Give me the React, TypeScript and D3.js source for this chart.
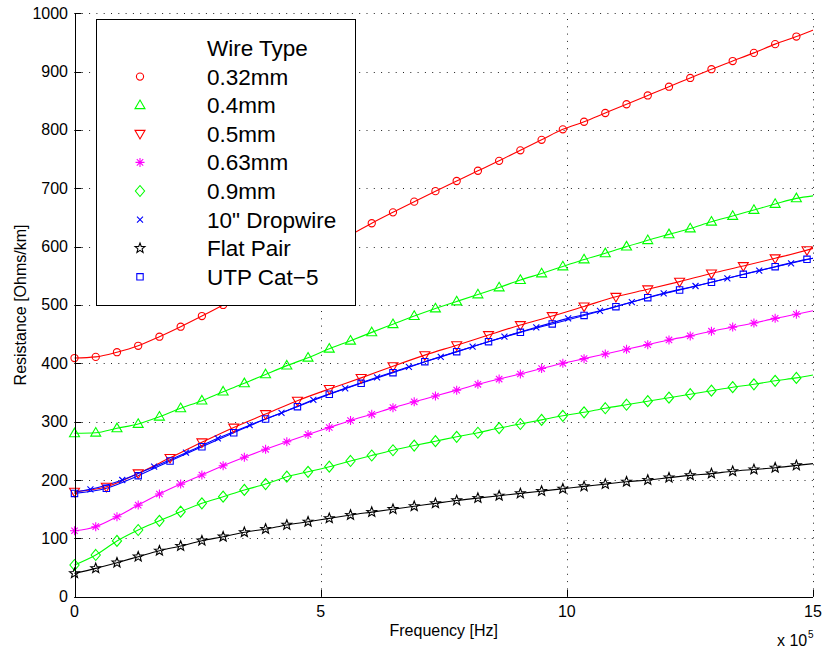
import React from "react";
import * as d3 from "d3";

// ---- data (frequency in Hz, resistance in Ohms/km) ----
const freqA = [0, 43125, 86250, 129375, 172500, 215625, 258750, 301875, 345000, 388125, 431250, 474375, 517500, 560625, 603750, 646875, 690000, 733125, 776250, 819375, 862500, 905625, 948750, 991875, 1035000, 1078125, 1121250, 1164375, 1207500, 1250625, 1293750, 1336875, 1380000, 1423125, 1466250];
const freqB = [0, 64687.5, 129375, 194062.5, 258750, 323437.5, 388125, 452812.5, 517500, 582187.5, 646875, 711562.5, 776250, 840937.5, 905625, 970312.5, 1035000, 1099687.5, 1164375, 1229062.5, 1293750, 1358437.5, 1423125, 1487812.5];
const freqC = [32343.75, 97031.25, 161718.75, 226406.25, 291093.75, 355781.25, 420468.75, 485156.25, 549843.75, 614531.25, 679218.75, 743906.25, 808593.75, 873281.25, 937968.75, 1002656.25, 1067343.75, 1132031.25, 1196718.75, 1261406.25, 1326093.75, 1390781.25, 1455468.75];
const edgeFreq = [0, 1500000];

const r032 = [409, 411, 419, 430, 445.6, 462.7, 481, 500, 520, 540, 560, 580, 600, 620, 640, 658.7, 677, 695, 712.4, 730, 747, 765, 783, 801, 814, 829, 844, 859, 874, 889, 904, 918, 932, 947, 960];
const r04 = [280, 281, 288.6, 296, 308.5, 322.9, 336, 351.4, 365.7, 381, 396, 409.5, 425, 438.7, 453, 467, 481, 494, 506, 518, 530, 542.7, 554, 566, 578, 588.5, 600, 611, 621, 631, 642.6, 652.4, 662.7, 673, 682.7];
const r05 = [180, 188.5, 211.5, 238, 264.6, 290, 313, 336, 356, 375, 395, 414, 431, 448.5, 465.6, 481, 497.5, 514, 526.8, 540, 554, 566.7, 580, 594];
const r063 = [113, 120, 137, 157, 176, 193, 208.6, 224.5, 239, 252.6, 265.6, 278, 290, 302, 312.6, 324, 334, 344, 354, 364, 373, 381.7, 391, 400, 408, 416, 424, 432, 440, 447, 455, 462, 469, 477, 484];
const r09 = [54.3, 71.5, 95.5, 114.3, 130, 145.7, 160, 171.4, 182.9, 193, 205.7, 214, 222.8, 232.6, 242, 251, 259, 266.5, 274, 281, 289, 296, 303, 310, 316, 323, 329, 335, 341, 347, 353, 359, 364, 370, 375];
const rDrop = [184, 200, 222.8, 246.8, 271.5, 294, 315, 337.5, 357, 376, 394, 411, 428.5, 445.6, 461.7, 477, 490, 505, 520, 532.5, 545.7, 558.7, 571.4];
const rFlat = [40, 48.6, 58.3, 68.6, 78.8, 86.9, 96, 102.8, 110.4, 116, 123, 128.5, 134.3, 140, 145, 150, 155, 160, 165, 169, 173, 177, 181, 185, 189, 193, 197, 200, 204, 208, 211, 215, 218, 221, 225];
const rUtp = [177, 185.8, 207.4, 232.6, 257, 281, 304.5, 325.6, 347, 365.7, 384, 402.7, 420, 437, 453, 467.4, 482, 497, 512.4, 525.6, 538.8, 552.5, 565.6, 578.2];

// line values at the axis edges (start at 0 Hz, end at 1.5 MHz); null = none
const edgeStart = [null, null, null, null, null, 179, null, null];
const edgeEnd = [971, 687, 597, 490, 380, 580, 228, 580];

const seriesNames = ["0.32mm", "0.4mm", "0.5mm", "0.63mm", "0.9mm", "10\" Dropwire", "Flat Pair", "UTP Cat\u22125"];
const seriesFreqs = [freqA, freqA, freqB, freqA, freqA, freqC, freqA, freqB];
const seriesValues = [r032, r04, r05, r063, r09, rDrop, rFlat, rUtp];
const seriesColors = ["#ff0000", "#00ff00", "#ff0000", "#ff00ff", "#00ff00", "#0000ff", "#000000", "#0000ff"];
const seriesShapes = ["circle", "triUp", "triDown", "asterisk", "diamond", "cross", "star", "square"];

const xTicks = [0, 500000, 1000000, 1500000];
const xTickLabels = ["0", "5", "10", "15"];
const yTicks = [0, 100, 200, 300, 400, 500, 600, 700, 800, 900, 1000];

const FONT = "'Liberation Sans', Arial, Helvetica, sans-serif";

function markerPath(shape: string): string {
  switch (shape) {
    case "circle": {
      const r = 3.6;
      return `M${r},0A${r},${r} 0 1,1 ${-r},0A${r},${r} 0 1,1 ${r},0Z`;
    }
    case "triUp":
      return "M0,-5.2L5,3.4L-5,3.4Z";
    case "triDown":
      return "M0,5.2L5,-3.4L-5,-3.4Z";
    case "diamond":
      return "M0,-5.5L4.6,0L0,5.5L-4.6,0Z";
    case "square":
      return "M-3.2,-3.2L3.2,-3.2L3.2,3.2L-3.2,3.2Z";
    case "cross":
      return "M-3,-3L3,3M-3,3L3,-3";
    case "asterisk":
      return "M-4.5,0L4.5,0M0,-4.5L0,4.5M-3.2,-3.2L3.2,3.2M-3.2,3.2L3.2,-3.2";
    case "star": {
      const pts: string[] = [];
      for (let i = 0; i < 10; i++) {
        const rr = i % 2 === 0 ? 5.2 : 2.2;
        const a = -Math.PI / 2 + (i * Math.PI) / 5;
        pts.push(`${(rr * Math.cos(a)).toFixed(2)},${(rr * Math.sin(a)).toFixed(2)}`);
      }
      return "M" + pts.join("L") + "Z";
    }
  }
  return "";
}

export default function App() {
  const W = 823, H = 652;
  const x = d3.scaleLinear().domain([0, 1500000]).range([74.5, 813]);
  const y = d3.scaleLinear().domain([0, 1000]).range([596.7, 13.2]);
  const line = d3
    .line<[number, number]>()
    .x((d) => x(d[0]))
    .y((d) => y(d[1]))
    .curve(d3.curveMonotoneX);

  const x0 = x(0), x1 = x(1500000), y0 = y(0), y1 = y(1000);

  const legend = { x: 96, y: 19, w: 259, h: 286, markerX: 140, textX: 207, rowY0: 48, rowH: 28.6 };

  return (
    <svg width={W} height={H} style={{ position: "absolute", left: 0, top: 0, background: "#fff" }} fontFamily={FONT}>
      <rect x={0} y={0} width={W} height={H} fill="#fff" />
      {/* grid */}
      <g stroke="#222" strokeWidth={1} strokeDasharray="1,6.3">
        {yTicks.map((t) => (
          <line key={"gy" + t} x1={x0} x2={x1} y1={Math.round(y(t)) + 0.5} y2={Math.round(y(t)) + 0.5} />
        ))}
        {xTicks.map((t) => (
          <line key={"gx" + t} x1={Math.round(x(t)) + 0.5} x2={Math.round(x(t)) + 0.5} y1={y0} y2={y1} />
        ))}
      </g>
      {/* series lines */}
      <g fill="none" strokeWidth={1.1}>
        {seriesValues.map((vals, i) => {
          const pts: [number, number][] = [];
          if (edgeStart[i] !== null) pts.push([edgeFreq[0], edgeStart[i] as number]);
          seriesFreqs[i].forEach((f, j) => pts.push([f, vals[j]]));
          pts.push([edgeFreq[1], edgeEnd[i]]);
          return <path key={"l" + i} d={line(pts) || ""} stroke={seriesColors[i]} />;
        })}
      </g>
      {/* markers */}
      <g fill="none" strokeWidth={1.1}>
        {seriesValues.map((vals, i) =>
          vals.map((v, j) => (
            <path
              key={"m" + i + "_" + j}
              d={markerPath(seriesShapes[i])}
              transform={`translate(${x(seriesFreqs[i][j])},${y(v)})`}
              stroke={seriesColors[i]}
            />
          ))
        )}
      </g>
      {/* axes */}
      <g stroke="#000" strokeWidth={1}>
        <line x1={Math.round(x0) + 0.5} x2={Math.round(x0) + 0.5} y1={y1} y2={y0 + 0.5} />
        <line x1={x0} x2={x1} y1={Math.round(y0) + 0.5} y2={Math.round(y0) + 0.5} />
        {yTicks.map((t) => (
          <line key={"ty" + t} x1={x0} x2={x0 + 7} y1={Math.round(y(t)) + 0.5} y2={Math.round(y(t)) + 0.5} />
        ))}
        {xTicks.map((t) => (
          <line key={"tx" + t} x1={Math.round(x(t)) + 0.5} x2={Math.round(x(t)) + 0.5} y1={y0} y2={y0 - 7} />
        ))}
      </g>
      <g fontSize={16} fill="#000">
        {yTicks.map((t) => (
          <text key={"yl" + t} x={68} y={y(t) + 5.5} textAnchor="end">
            {t}
          </text>
        ))}
        {xTicks.map((t, i) => (
          <text key={"xl" + t} x={x(t)} y={617} textAnchor="middle">
            {xTickLabels[i]}
          </text>
        ))}
        <text x={(x0 + x1) / 2} y={636} textAnchor="middle">
          Frequency [Hz]
        </text>
        <text transform={`translate(26,${(y0 + y1) / 2}) rotate(-90)`} textAnchor="middle">
          Resistance [Ohms/km]
        </text>
        <text x={777} y={646}>
          x 10
        </text>
        <text x={808} y={638} fontSize={10}>
          5
        </text>
      </g>
      {/* legend */}
      <g>
        <rect x={legend.x + 0.5} y={legend.y + 0.5} width={legend.w} height={legend.h} fill="#fff" stroke="#000" strokeWidth={1} />
        <text x={legend.textX} y={legend.rowY0 + 8} fontSize={22.5}>
          Wire Type
        </text>
        {seriesNames.map((n, i) => {
          const cy = legend.rowY0 + legend.rowH * (i + 1);
          return (
            <g key={"lg" + i}>
              <path d={markerPath(seriesShapes[i])} transform={`translate(${legend.markerX},${cy})`} fill="none" stroke={seriesColors[i]} strokeWidth={1.1} />
              <text x={legend.textX} y={cy + 8} fontSize={22.5}>
                {n}
              </text>
            </g>
          );
        })}
      </g>
    </svg>
  );
}
